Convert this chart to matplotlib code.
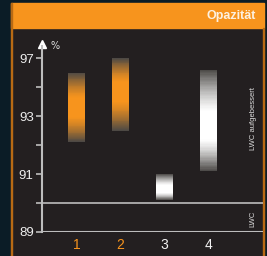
import matplotlib.pyplot as plt
import matplotlib.patches as mpatches
import matplotlib.colors as mcolors
import numpy as np

# data (percent)
kategorien = ["1", "2", "3", "4"]
oben = [96.0, 97.0, 91.0, 96.2]
unten = [92.1, 92.5, 90.1, 91.1]
lwc_grenze = 90.0
major_ticks = [89, 91, 93, 97]
minor_ticks = [90, 92, 95]

# style
navy = "#0b1c26"
panel = "#231f20"
orange = "#f7941d"
grau = "#bdbdbd"
farben = [orange, orange, "#ffffff", "#ffffff"]
label_farben = [orange, orange, "#f2f2f2", "#f2f2f2"]
peak = [0.5, 0.55, 0.4, 0.43]
kante = np.array([0.29, 0.28, 0.27])
schrift = ["Liberation Sans Narrow", "Liberation Sans", "DejaVu Sans"]

# nicht-lineare Achse (gleiche Abstaende pro Tick)
stufen = [89, 90, 91, 92, 93, 95, 97, 99]
pos = [0, 1, 2, 3, 4, 5, 6, 7]
def fwd(v):
    return np.interp(v, stufen, pos, left=-1, right=8)
def inv(p):
    return np.interp(p, pos, stufen)

W, H = 267, 256
fig = plt.figure(figsize=(W / 100, H / 100), dpi=100)
fig.patch.set_facecolor(navy)

def rect(x0, y0, x1, y1, c):
    fig.patches.append(mpatches.Rectangle((x0 / W, 1 - y1 / H), (x1 - x0) / W, (y1 - y0) / H,
                                          transform=fig.transFigure, color=c, zorder=-10))
rect(11, 28, 264, 256, panel)
rect(11, 3, 264, 28, orange)
rect(11, 3, 12.2, 256, "#b86a14")
rect(262.8, 28, 264, 256, "#b86a14")
fig.text(256 / W, 1 - 16.5 / H, "Opazität", color="#fdf1e0", fontsize=9,
         ha="right", va="center", family=schrift, weight="bold")

ax = fig.add_axes([42 / W, 1 - 232 / H, (263 - 42) / W, (232 - 46) / H])
ax.set_facecolor("none")
ax.set_yscale("function", functions=(fwd, inv))
ytop = inv((232 - 46) / 29)
ax.set_ylim(89, ytop)
ax.set_xlim(1 + (42 - 76.5) / 44, 1 + (263 - 76.5) / 44)

# Balken mit Farbverlauf
n = 80
for i, k in enumerate(kategorien):
    p0, p1 = fwd(unten[i]), fwd(oben[i])
    ps = np.linspace(p0, p1, n + 1)
    t = (np.arange(n) + 0.5) / n
    c = peak[i]
    s = np.where(t < c, t / (2 * c), 0.5 + (t - c) / (2 * (1 - c)))
    w = np.clip(1.1 * np.sin(np.pi * s), 0, 1)
    ziel = np.array(mcolors.to_rgb(farben[i]))
    for j in range(n):
        col = kante * (1 - w[j]) + ziel * w[j]
        b = inv(ps[j])
        ax.bar(i + 1, inv(ps[j + 1]) - b, bottom=b, width=0.39, color=col, linewidth=0)

ax.axhline(lwc_grenze, color=grau, lw=1.2)
ax.axhline(89, color=grau, lw=1.5)

for s in ["top", "right", "bottom"]:
    ax.spines[s].set_visible(False)
ax.spines["left"].set_color(grau)
ax.spines["left"].set_linewidth(1.5)
ax.plot(0, 1.01, marker="^", color="white", markersize=6, transform=ax.transAxes, clip_on=False)

ax.set_yticks(major_ticks)
ax.set_yticklabels([str(v) for v in major_ticks])
ax.set_yticks(minor_ticks, minor=True)
ax.set_yticklabels([], minor=True)
ax.tick_params(axis="y", which="both", length=4, width=1.2, color=grau, labelcolor="#eeeeee",
               labelsize=9.5, pad=2)
for lab in ax.get_yticklabels():
    lab.set_family(schrift)

ax.set_xticks(range(1, len(kategorien) + 1))
ax.set_xticklabels(kategorien)
ax.tick_params(axis="x", length=0, labelsize=10, pad=4)
for lab, c in zip(ax.get_xticklabels(), label_farben):
    lab.set_color(c)
    lab.set_family(schrift)

ax.text(0.06, 1.0, "%", transform=ax.transAxes, color="#dddddd", fontsize=7, ha="center", va="center")
ax.text(0.955, 3.9 / fwd(ytop), "LWC aufgebessert", transform=ax.transAxes,
        rotation=90, color="#dddddd", fontsize=5.5, ha="center", va="center", family=schrift)
ax.text(0.955, 0.07, "LWC", transform=ax.transAxes, rotation=90, color="#dddddd",
        fontsize=5.5, ha="center", va="center", family=schrift)

fig.savefig("out.png", dpi=100, facecolor=navy)
